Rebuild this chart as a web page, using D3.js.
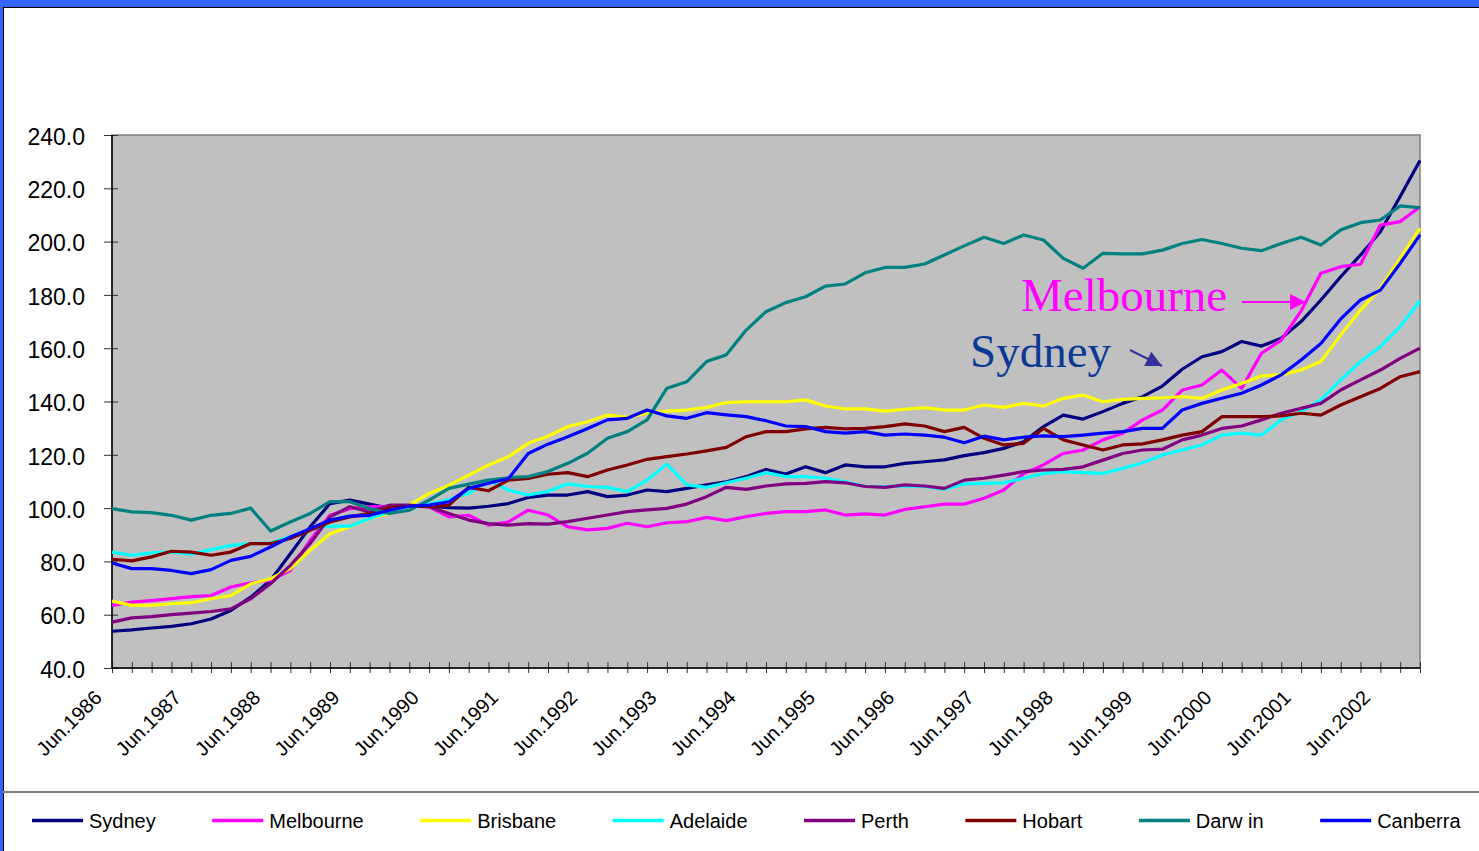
<!DOCTYPE html>
<html>
<head>
<meta charset="utf-8">
<script src="https://cdn.jsdelivr.net/npm/d3@7"></script>
<style>
  body { margin: 0; background: #fff; }
  svg { display: block; font-family: "Liberation Sans", Arial, sans-serif; }
</style>
</head>
<body>
<svg id="chart" width="1479" height="851"></svg>
<script>
// quarterly categories Jun.1986 .. Dec.2002
const months = ["Jun", "Sep", "Dec", "Mar"];
const quarters = [];
for (let i = 0; i < 67; i++) {
  quarters.push(months[i % 4] + "." + (1986 + Math.floor((i + 1) / 4)));
}
const tickLabels = ["Jun.1986", "Jun.1987", "Jun.1988", "Jun.1989", "Jun.1990", "Jun.1991",
  "Jun.1992", "Jun.1993", "Jun.1994", "Jun.1995", "Jun.1996", "Jun.1997", "Jun.1998",
  "Jun.1999", "Jun.2000", "Jun.2001", "Jun.2002"];
const yTicks = [40, 60, 80, 100, 120, 140, 160, 180, 200, 220, 240];

const sydney = [53.8, 54.3, 55, 55.6, 56.6, 58.4, 61.6, 66.6, 72.9, 82.9, 93, 101.7, 103, 101.5, 99.9, 100.7,
  100.7, 100.2, 100, 100.7, 101.7, 104, 104.9, 104.9, 106.2, 104.3, 104.9, 106.8, 106.2, 107.4, 108.7, 109.9,
  111.8, 114.5, 112.8, 115.5, 113.3, 116.2, 115.5, 115.5, 116.8, 117.4, 118.1, 119.7, 120.8, 122.4, 124.9, 130.6,
  134.9, 133.4, 136.2, 139.3, 141.8, 145.8, 152.1, 156.8, 158.7, 162.5, 160.8, 163.7, 170, 178.1, 186.8, 195,
  203.7, 216.9, 230.4];
const melbourne = [63.5, 64.7, 65.3, 66, 66.8, 67.2, 70.4, 72, 72.9, 76.6, 87.9, 97.3, 99.8, 100.5, 100.7, 100.7,
  100.5, 96.7, 97.3, 93.6, 94.8, 99.2, 97.4, 93, 91.8, 92.4, 94.3, 93, 94.5, 94.9, 96.5, 95.3,
  96.8, 98, 98.7, 98.7, 99.3, 97.4, 97.8, 97.4, 99.5, 100.5, 101.5, 101.5, 103.7, 106.8, 113, 116.2,
  120.5, 121.8, 125.6, 128.1, 133.1, 136.8, 144.3, 146.2, 151.8, 144.9, 158.1, 163, 174, 188.1, 190.6, 191.5,
  206.2, 207.5, 213.1];
const brisbane = [65.1, 63.5, 63.5, 64.1, 64.5, 66, 67.2, 71.6, 73.5, 77.3, 84.2, 90.4, 93, 96.1, 98, 101.1,
  105.5, 108.6, 112.4, 116.2, 119.3, 124.3, 127, 130.6, 132.4, 134.9, 134.1, 135.6, 136.4, 136.8, 137.8, 139.6,
  139.9, 139.9, 139.9, 140.6, 138.3, 137.2, 137.2, 136.4, 137.1, 137.7, 136.8, 136.8, 138.7, 137.8, 139.3, 138.3,
  141.2, 142.4, 139.9, 140.8, 141.2, 141.4, 141.8, 141.2, 144.3, 146.8, 149.6, 150, 151.8, 155, 165, 174.3,
  182.5, 193.7, 205];
const adelaide = [83.5, 82.3, 83.2, 83.5, 82.7, 84.4, 86, 86.7, 86.9, 89.2, 92.3, 93.2, 93.2, 96.1, 98.6, 100.7,
  101.5, 103.2, 105.5, 110.5, 106.8, 104.9, 106.3, 109.1, 108.1, 107.8, 106.2, 110.5, 116.5, 108.7, 107.8, 109.5,
  111.2, 113.3, 111.8, 111.8, 111.2, 109.9, 108.1, 108.1, 108.3, 108.1, 107.1, 109.1, 109.3, 109.5, 111.2, 113,
  113.7, 113.3, 113, 114.9, 117, 119.9, 121.8, 123.7, 127.4, 128.1, 127.4, 133.1, 136.2, 140.6, 148.1, 155,
  160.6, 168.1, 177.8];
const perth = [57.2, 58.8, 59.3, 60, 60.6, 61.2, 62.2, 66, 71.6, 78.5, 86.7, 96.7, 100.5, 98.6, 101.1, 101.1,
  100.5, 98, 95.5, 94.2, 93.6, 94.2, 94, 94.9, 96.2, 97.4, 98.7, 99.3, 99.9, 101.5, 104.3, 107.8,
  107, 108.3, 109.1, 109.3, 109.9, 109.5, 108.1, 107.8, 108.7, 108.3, 107.4, 110.5, 111.2, 112.4, 113.7, 114.3,
  114.5, 115.5, 118, 120.5, 121.8, 122.1, 125.6, 127.4, 129.9, 130.8, 133.1, 135.6, 137.4, 139.3, 144.3, 148.1,
  151.8, 156.2, 160];
const hobart = [80.8, 80.2, 81.7, 83.8, 83.5, 82.3, 83.5, 86.7, 86.7, 88.6, 91.7, 94.8, 96.7, 98, 100.2, 100.7,
  100.5, 101.1, 107.8, 106.5, 110.5, 111.1, 112.7, 113.3, 111.8, 114.3, 116.2, 118.3, 119.3, 120.3, 121.5, 122.8,
  126.8, 128.7, 128.7, 129.7, 130.3, 129.7, 129.9, 130.6, 131.6, 130.8, 128.7, 130.3, 126.2, 123.7, 124.3, 129.9,
  125.6, 123.7, 121.8, 123.7, 124.1, 125.6, 127.4, 128.7, 134.3, 134.3, 134.3, 134.6, 135.6, 134.9, 138.7, 141.8,
  144.9, 149.3, 151.2];
const darwin = [99.8, 98.6, 98.3, 97.3, 95.5, 97.3, 98, 100, 91.4, 94.8, 98, 102.4, 102.4, 99.8, 98, 99.2,
  103, 107.4, 109, 110.5, 111.4, 111.8, 113.7, 116.8, 120.6, 126.2, 128.7, 133.1, 145, 147.4, 155, 157.5,
  166.8, 173.7, 177.1, 179.3, 183.3, 184.1, 188.3, 190.3, 190.3, 191.6, 195, 198.4, 201.6, 199.3, 202.5, 200.6,
  193.7, 190, 195.6, 195.4, 195.4, 196.8, 199.3, 200.8, 199.3, 197.5, 196.6, 199.3, 201.6, 198.7, 204.4, 207.1,
  208.1, 213.4, 212.7];
const canberra = [79.4, 77.3, 77.3, 76.6, 75.4, 76.9, 80.4, 81.9, 85.4, 89.2, 92.3, 95.5, 97, 97.3, 99.2, 100.7,
  101.1, 102.4, 107.4, 109.3, 111, 120.5, 124, 126.8, 129.9, 133.1, 133.7, 136.8, 134.6, 133.7, 135.8, 135,
  134.3, 132.8, 130.8, 130.6, 128.7, 128.1, 128.7, 127.4, 127.8, 127.4, 126.6, 124.5, 127, 125.6, 126.6, 127.1,
  126.8, 127.4, 128.1, 128.7, 129.9, 129.9, 136.8, 139.3, 141.2, 143.1, 146.2, 150, 155.6, 161.8, 171, 178.1,
  181.8, 191.8, 202.5];

const seriesNames = ["Sydney", "Melbourne", "Brisbane", "Adelaide", "Perth", "Hobart", "Darw in", "Canberra"];
const seriesValues = [sydney, melbourne, brisbane, adelaide, perth, hobart, darwin, canberra];
const seriesColors = ["#000080", "#FF00FF", "#FFFF00", "#00FFFF", "#800080", "#800000", "#008080", "#0000FF"];

const svg = d3.select("#chart");
const plotLeft = 112, plotRight = 1420, plotTop = 135, plotBottom = 668;

// frame
svg.append("rect").attr("x", 0).attr("y", 0).attr("width", 1479).attr("height", 7).attr("fill", "#3366FF");
svg.append("rect").attr("x", 0).attr("y", 0).attr("width", 3).attr("height", 851).attr("fill", "#3366FF");
svg.append("line").attr("x1", 3).attr("x2", 1479).attr("y1", 7.5).attr("y2", 7.5).attr("stroke", "#000");
svg.append("line").attr("x1", 3.5).attr("x2", 3.5).attr("y1", 7).attr("y2", 851).attr("stroke", "#000");

const x = d3.scalePoint().domain(quarters).range([plotLeft, plotRight]);
const y = d3.scaleLinear().domain([40, 240]).range([plotBottom, plotTop]);

// plot area
svg.append("rect")
  .attr("x", plotLeft).attr("y", plotTop)
  .attr("width", plotRight - plotLeft).attr("height", plotBottom - plotTop)
  .attr("fill", "#C0C0C0").attr("stroke", "#808080").attr("stroke-width", 1.5);

// y axis
const yAxis = svg.append("g")
  .attr("transform", "translate(" + (plotLeft + 6) + ",0)")
  .call(d3.axisLeft(y).tickValues(yTicks).tickSize(14).tickPadding(19).tickFormat(d3.format(".1f")));
yAxis.select(".domain").remove();
yAxis.selectAll(".tick line").attr("stroke", "#333");
yAxis.selectAll("text").attr("font-size", 23).attr("fill", "#000").attr("dy", "0.4em")
  .attr("font-family", "'Liberation Sans', Arial, sans-serif");

// x axis ticks (crossing the axis line)
const xAxis = svg.append("g")
  .attr("transform", "translate(0," + (plotBottom - 6) + ")")
  .call(d3.axisBottom(x).tickSize(11).tickFormat(""));
xAxis.select(".domain").remove();
xAxis.selectAll(".tick line").attr("stroke", "#333");

svg.append("line").attr("x1", plotLeft).attr("x2", plotRight).attr("y1", plotBottom).attr("y2", plotBottom)
  .attr("stroke", "#000").attr("stroke-width", 1.5);
svg.append("line").attr("x1", plotLeft).attr("x2", plotLeft).attr("y1", plotTop).attr("y2", plotBottom)
  .attr("stroke", "#000").attr("stroke-width", 1.5);

// x labels
svg.append("g").selectAll("text")
  .data(tickLabels)
  .enter()
  .append("text")
  .attr("transform", d => "translate(" + (x(d) - 9) + "," + 699 + ") rotate(-45)")
  .attr("text-anchor", "end")
  .attr("font-size", 20)
  .text(d => d);

// lines
const line = d3.line()
  .x((d, i) => x(quarters[i]))
  .y(d => y(d));

svg.append("g").selectAll("path")
  .data(seriesValues)
  .enter()
  .append("path")
  .attr("d", d => line(d))
  .attr("fill", "none")
  .attr("stroke", (d, i) => seriesColors[i])
  .attr("stroke-width", 3.2)
  .attr("stroke-linejoin", "round");

// annotations
const defs = svg.append("defs");
[["headM", "#FF00FF"], ["headS", "#333399"]].forEach(h => {
  defs.append("marker")
    .attr("id", h[0]).attr("viewBox", "0 0 10 10")
    .attr("refX", 10).attr("refY", 5)
    .attr("markerWidth", 16).attr("markerHeight", 16)
    .attr("markerUnits", "userSpaceOnUse")
    .attr("orient", "auto")
    .append("path").attr("d", "M0,0 L10,5 L0,10 Z").attr("fill", h[1]);
});

svg.append("text").attr("x", 1021).attr("y", 311)
  .attr("font-family", "'Liberation Serif', 'Times New Roman', serif")
  .attr("font-size", 47).attr("fill", "#FF00FF").text("Melbourne");
svg.append("line").attr("x1", 1242).attr("y1", 302).attr("x2", 1306).attr("y2", 302)
  .attr("stroke", "#FF00FF").attr("stroke-width", 2).attr("marker-end", "url(#headM)");

svg.append("text").attr("x", 970).attr("y", 367)
  .attr("font-family", "'Liberation Serif', 'Times New Roman', serif")
  .attr("font-size", 47).attr("fill", "#0A3A96").text("Sydney");
svg.append("line").attr("x1", 1130).attr("y1", 350).attr("x2", 1162).attr("y2", 366)
  .attr("stroke", "#333399").attr("stroke-width", 2).attr("marker-end", "url(#headS)");

// legend
svg.append("line").attr("x1", 3).attr("x2", 1479).attr("y1", 792).attr("y2", 792)
  .attr("stroke", "#808080").attr("stroke-width", 2);

let lx = 32;
seriesNames.forEach((name, i) => {
  svg.append("line").attr("x1", lx).attr("x2", lx + 51).attr("y1", 820.5).attr("y2", 820.5)
    .attr("stroke", seriesColors[i]).attr("stroke-width", 3.5);
  const t = svg.append("text").attr("x", lx + 57).attr("y", 828)
    .attr("font-size", 20).text(name);
  lx += 57 + t.node().getComputedTextLength() + 56.5;
});
</script>
</body>
</html>
